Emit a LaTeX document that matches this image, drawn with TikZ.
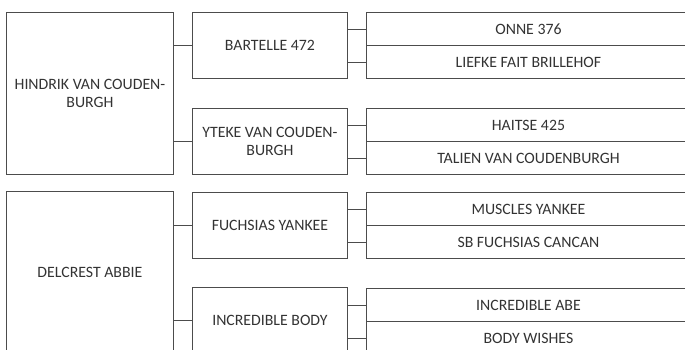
\documentclass[tikz,border=0pt]{standalone}
\usepackage{fontspec}
\setmainfont{Carlito}
\begin{document}
\begin{tikzpicture}[x=1pt, y=-1pt,
        box/.style={draw=black!70, line width=0.9pt, text=black!80, align=center,
            inner sep=0pt, anchor=north west, font=\fontsize{15.8}{18}\selectfont},
        sirebox/.style={box, minimum width=167pt, minimum height=162pt},
        parentbox/.style={box, minimum width=155pt, minimum height=66pt},
        grandbox/.style={box, minimum width=324pt, minimum height=33pt},
        link/.style={draw=black!70, line width=0.9pt}]
        \useasboundingbox (0,0) rectangle (685,349);

        % First pedigree
        \node[sirebox] (hvc) at (6,12) {HINDRIK VAN COUDEN-\\BURGH};
        \node[parentbox] (bart) at (192,12) {BARTELLE 472};
        \node[parentbox] (yteke) at (192,108) {YTEKE VAN COUDEN-\\BURGH};
        \node[grandbox] (onne) at (366,12) {ONNE 376};
        \node[grandbox] (liefke) at (366,45) {LIEFKE FAIT BRILLEHOF};
        \node[grandbox] (haitse) at (366,108) {HAITSE 425};
        \node[grandbox] (talien) at (366,141) {TALIEN VAN COUDENBURGH};

        % Second pedigree
        \node[sirebox] (delcrest) at (6,191) {DELCREST ABBIE};
        \node[parentbox] (fuchs) at (192,192) {FUCHSIAS YANKEE};
        \node[parentbox] (incbody) at (192,287) {INCREDIBLE BODY};
        \node[grandbox] (muscles) at (366,192) {MUSCLES YANKEE};
        \node[grandbox] (sbfuchs) at (366,225) {SB FUCHSIAS CANCAN};
        \node[grandbox] (incabe) at (366,288) {INCREDIBLE ABE};
        \node[grandbox] (wishes) at (366,321) {BODY WISHES};

        % Connectors
        \draw[link] (hvc.east |- bart.west) -- (bart.west);
        \draw[link] (hvc.east |- yteke.west) -- (yteke.west);
        \draw[link] (bart.east |- onne.west) -- (onne.west);
        \draw[link] (bart.east |- liefke.west) -- (liefke.west);
        \draw[link] (yteke.east |- haitse.west) -- (haitse.west);
        \draw[link] (yteke.east |- talien.west) -- (talien.west);
        \draw[link] (delcrest.east |- fuchs.west) -- (fuchs.west);
        \draw[link] (delcrest.east |- incbody.west) -- (incbody.west);
        \draw[link] (fuchs.east |- muscles.west) -- (muscles.west);
        \draw[link] (fuchs.east |- sbfuchs.west) -- (sbfuchs.west);
        \draw[link] (incbody.east |- incabe.west) -- (incabe.west);
        \draw[link] (incbody.east |- wishes.west) -- (wishes.west);
    \end{tikzpicture}
\end{document}
